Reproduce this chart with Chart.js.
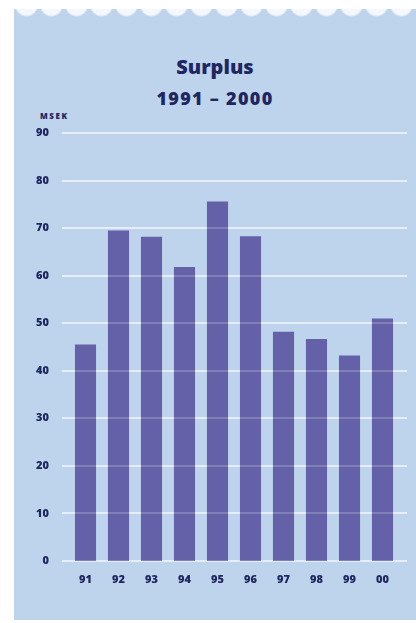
<!DOCTYPE html>
<html>
<head>
<meta charset="utf-8">
<script src="https://cdn.jsdelivr.net/npm/chart.js@4.4.1/dist/chart.umd.min.js"></script>
<style>
  html, body { margin:0; padding:0; background:#fff; }
  #wrap { position:relative; width:416px; height:623px; overflow:hidden; }
  #panel { position:absolute; left:14px; top:14px; width:402px; height:606px; background:#bdd4ec; }
  #scallop { position:absolute; left:14px; top:9px; width:402px; height:12px;
    background: radial-gradient(circle at 12.5px -4px, #f4f8fc 10px, #bdd4ec 12px) 0 0 / 25px 12px repeat-x; }
  #chartBox { position:absolute; left:0; top:0; width:416px; height:623px; }
  .t { position:absolute; left:14px; width:402px; text-align:center; color:#1f2660;
       font-family:"Open Sans", sans-serif; font-weight:800; }
  #title { top:53px; font-size:20px; }
  #sub { top:86px; font-size:18px; letter-spacing:1.3px; }
  #unit { position:absolute; left:40px; top:110px; font-family:"Open Sans", sans-serif;
          font-weight:800; font-size:8px; color:#1f2660; letter-spacing:1.6px; }
</style>
</head>
<body>
<div id="wrap">
  <div id="panel"></div>
  <div id="scallop"></div>
  <div class="t" id="title">Surplus</div>
  <div class="t" id="sub">1991 – 2000</div>
  <div id="unit">MSEK</div>
  <div id="chartBox"><canvas id="c" width="416" height="623"></canvas></div>
</div>
<script>
"use strict";
const years   = ['91','92','93','94','95','96','97','98','99','00'];
const surplus = [45.5, 69.5, 68.2, 61.8, 75.6, 68.3, 48.2, 46.7, 43.2, 51.0];
const yTicks  = [0, 10, 20, 30, 40, 50, 60, 70, 80, 90];

const ink = '#1f2660';

// gridlines: solid under bars, faint over bars
const grid = {
  id:'grid',
  beforeDatasetsDraw(chart) {
    const {ctx, chartArea:ca, scales} = chart;
    ctx.save();
    ctx.strokeStyle = '#e6eef8'; ctx.lineWidth = 2;
    yTicks.forEach(v => {
      const y = Math.round(scales.y.getPixelForValue(v));
      ctx.beginPath(); ctx.moveTo(ca.left - 7, y); ctx.lineTo(ca.right + 8, y); ctx.stroke();
    });
    ctx.restore();
  },
  afterDatasetsDraw(chart) {
    const {ctx, chartArea:ca, scales} = chart;
    ctx.save();
    ctx.strokeStyle = 'rgba(230,238,248,0.22)'; ctx.lineWidth = 2;
    yTicks.forEach(v => {
      const y = Math.round(scales.y.getPixelForValue(v));
      ctx.beginPath(); ctx.moveTo(ca.left, y); ctx.lineTo(ca.right, y); ctx.stroke();
    });
    ctx.restore();
  }
};

new Chart(document.getElementById('c').getContext('2d'), {
  type:'bar',
  data:{
    labels: years,
    datasets:[{
      data: surplus,
      backgroundColor:'#6461a8',
      borderWidth:0,
      barPercentage:1,
      categoryPercentage:0.64
    }]
  },
  options:{
    responsive:false,
    animation:false,
    events:[],
    layout:{ padding:{ top:133, right:17, left:0, bottom:0 } },
    plugins:{ legend:{ display:false }, tooltip:{ enabled:false } },
    scales:{
      x:{
        grid:{ display:false },
        border:{ display:false },
        ticks:{ color:ink, padding:4, font:{ family:'Open Sans', size:11, weight:'800' } },
        afterFit(s) { s.height = 62; }
      },
      y:{
        min:0, max:90,
        afterBuildTicks(s) { s.ticks = yTicks.map(v => ({ value:v })); },
        grid:{ display:false },
        border:{ display:false },
        ticks:{ color:ink, padding:12, font:{ family:'Open Sans', size:11, weight:'800' } },
        afterFit(s) { s.width = 69; }
      }
    }
  },
  plugins:[grid]
});
</script>
</body>
</html>
